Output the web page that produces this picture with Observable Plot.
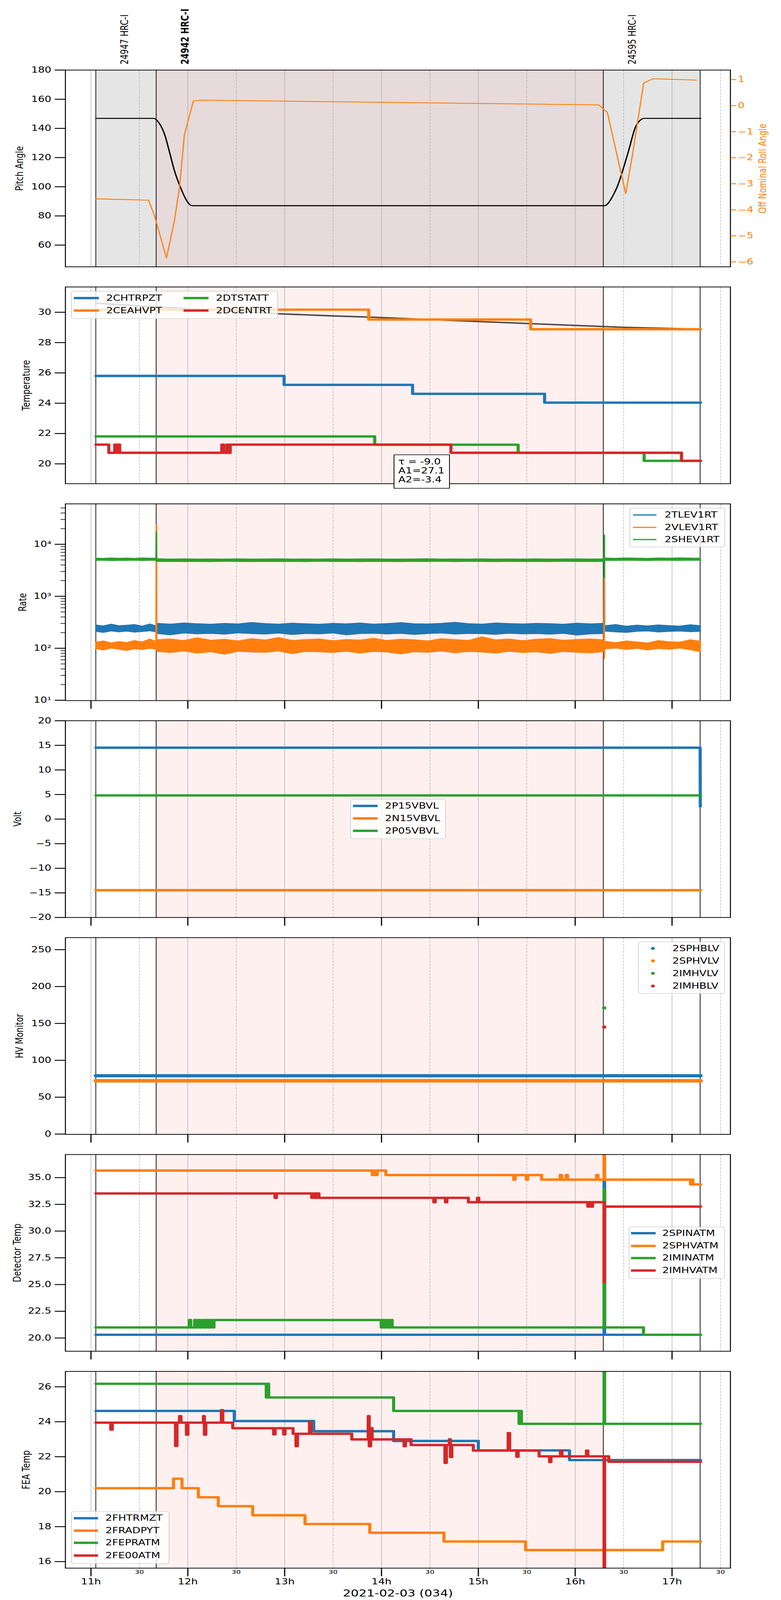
<!DOCTYPE html>
<html><head><meta charset="utf-8">
<script src="https://cdn.jsdelivr.net/npm/d3@7"></script>
<script src="https://cdn.jsdelivr.net/npm/@observablehq/plot@0.6"></script>
<style>
html,body{margin:0;padding:0;overflow:hidden;background:#fff;font-family:"DejaVu Sans",sans-serif;}
#wrap{position:relative;width:2000px;height:5400px;background:#fff;overflow:hidden;transform-origin:0 0}
#wrap svg{display:block}
.lg{position:absolute;box-sizing:border-box;border:2px solid #d3d3d3;border-radius:7px;background:rgba(255,255,255,0.8)}
.abs{position:absolute}
.lt{position:absolute;font-size:27px;line-height:34px;height:34px;white-space:nowrap;color:#000}
</style></head>
<body><div id="wrap"></div>
<script>
// ---------- data ----------
const obsidIds = ["24947", "24942", "24595"];
const obsidInst = ["HRC-I", "HRC-I", "HRC-I"];
const obsidStart = [11.05, 11.673, 16.29];
const obsidEnd = [11.673, 16.29, 17.29];
const currentObsid = "24942";
const hourTicks = [11, 12, 13, 14, 15, 16, 17];
const halfHourTicks = [11.5, 12.5, 13.5, 14.5, 15.5, 16.5, 17.5];
const dateLabel = "2021-02-03 (034)";

// panel 1: pitch and roll
const pitch = [[11.05,146.9],[11.647,146.9],[11.70,144],[11.76,136],[11.81,124],[11.862,111],[11.924,99.6],[11.99,90.3],[12.02,87.8],[12.043,87],[16.306,87],[16.35,89.5],[16.389,93.8],[16.44,101],[16.49,111],[16.553,125],[16.62,140.5],[16.67,145.5],[16.712,146.9],[17.295,146.9]];
const roll = [[11.05,-3.58],[11.595,-3.63],[11.657,-4.25],[11.78,-5.85],[11.862,-4.41],[11.914,-3.14],[11.965,-1.11],[12.058,0.18],[12.145,0.21],[16.244,0.03],[16.332,-0.26],[16.522,-3.38],[16.594,-1.83],[16.707,0.865],[16.8,1.03],[17.252,0.98]];
const pitchTicks = [60, 80, 100, 120, 140, 160, 180];
const rollTicks = [-6, -5, -4, -3, -2, -1, 0, 1];

// panel 2: temperature
const tempModel = [[11.05,30.6],[11.5,30.42],[12.0,30.24],[12.5,30.07],[12.94,29.9],[13.5,29.76],[13.97,29.66],[14.5,29.52],[15.0,29.39],[15.5,29.26],[16.0,29.13],[16.49,29.01],[17.0,28.93],[17.295,28.88]];
const CHTRPZT = [[11.05,25.8],[12.994,25.21],[14.321,24.62],[15.684,24.04],[17.295,24.04]];
const CEAHVPT = [[11.05,30.17],[13.868,29.52],[15.54,28.88],[17.295,28.88]];
const DTSTATT = [[11.05,21.81],[13.93,21.26],[15.411,20.73],[16.712,20.2],[17.295,20.2]];
const DCENTRT = [[11.05,21.27],[11.184,20.73],[11.245,21.27],[11.265,20.73],[11.285,21.27],[11.297,20.73],[12.351,21.27],[12.37,20.73],[12.403,21.27],[12.42,20.73],[12.438,21.27],[14.717,20.73],[17.098,20.2],[17.295,20.2]];
const fitText = ["τ = -9.0", "A1=27.1", "A2=-3.4"];
const tempTicks = [20, 22, 24, 26, 28, 30];

// panel 3: rates (envelope of the noisy traces)
const rateT = [11.05,11.13,11.21,11.29,11.37,11.45,11.53,11.61,11.665,11.69,11.82,11.96,12.1,12.24,12.38,12.52,12.66,12.8,12.94,13.08,13.22,13.36,13.5,13.64,13.78,13.92,14.06,14.2,14.34,14.48,14.62,14.76,14.9,15.04,15.18,15.32,15.46,15.6,15.74,15.88,16.02,16.16,16.285,16.31,16.42,16.53,16.64,16.75,16.86,16.97,17.08,17.19,17.295];
const TLEV1RT_hi = [280,268,290,270,276,285,266,292,272, 300,290,305,295,288,300,292,312,298,290,302,295,288,300,293,305,290,298,310,295,292,300,314,296,290,305,298,292,300,296,288,302,294,300, 270,285,265,278,268,280,272,266,282,270];
const TLEV1RT_lo = [210,200,214,205,212,203,208,215,206, 190,180,195,188,192,185,196,190,186,194,182,191,188,195,180,190,193,187,192,183,190,195,186,191,189,184,193,188,190,185,192,178,188,190, 212,205,200,210,214,204,209,213,206,210];
const VLEV1RT_hi = [130,138,126,134,128,140,132,150,136, 145,150,140,158,142,148,138,152,144,160,141,146,150,139,147,143,155,140,149,145,138,152,146,141,165,144,150,139,148,153,142,147,150,145, 135,128,138,132,126,140,133,130,145,136];
const VLEV1RT_lo = [98,92,100,95,90,97,94,99,96, 86,82,88,80,85,76,87,84,83,88,78,86,85,82,87,80,86,84,77,85,83,88,81,86,84,80,87,82,85,79,86,83,81,85, 97,100,94,99,92,98,95,100,93,85];
const SHEV1RT_hi = [5400,5350,5450,5380,5420,5360,5440,5390,5400, 5250,5200,5230,5180,5220,5200,5240,5190,5210,5230,5180,5220,5200,5240,5190,5210,5230,5200,5180,5220,5250,5190,5210,5200,5230,5180,5220,5200,5240,5190,5210,5230,5200,5220, 5420,5380,5450,5400,5360,5440,5390,5460,5410,5400];
const SHEV1RT_lo = [4850,4900,4820,4880,4860,4900,4840,4880,4870, 4620,4650,4600,4640,4610,4660,4630,4600,4650,4620,4640,4600,4660,4620,4640,4610,4650,4630,4600,4640,4620,4660,4610,4640,4630,4600,4650,4620,4640,4610,4660,4630,4620,4640, 4880,4850,4900,4860,4840,4890,4870,4850,4900,4870];
const TLEV1RT_spike = [[16.297,250],[16.30,15000],[16.303,230]];
const VLEV1RT_spike1 = [[11.672,130],[11.675,24000],[11.678,95]];
const VLEV1RT_spike2 = [[16.297,120],[16.299,2300],[16.30,64],[16.303,110]];
const SHEV1RT_spike1 = [[11.672,5300],[11.675,17400],[11.678,4700]];
const SHEV1RT_spike2 = [[16.297,5000],[16.30,14500],[16.301,2300],[16.303,5200]];
const rateTicks = [10, 100, 1000, 10000];

// panel 4: volts
const P15VBVL = [[11.05,14.52],[17.29,14.52],[17.292,2.57]];
const N15VBVL = [[11.05,-14.45],[17.295,-14.45]];
const P05VBVL = [[11.05,4.82],[17.295,4.82]];
const voltTicks = [-20, -15, -10, -5, 0, 5, 10, 15, 20];

// panel 5: HV monitor
const SPHBLV = [[11.05,79.1],[17.295,79.1]];
const SPHVLV = [[11.05,72.3],[17.295,72.3]];
const IMHVLV = [[16.30,171]];
const IMHBLV = [[16.30,145]];
const hvTicks = [0, 50, 100, 150, 200, 250];

// panel 6: detector temp
const SPINATM = [[11.05,20.3],[16.298,34.7],[16.304,20.3],[17.295,20.3]];
const SPHVATM = [[11.05,35.66],[13.905,35.24],[13.925,35.66],[13.94,35.24],[13.955,35.66],[14.045,35.24],[15.365,34.81],[15.38,35.24],[15.495,34.81],[15.51,35.24],[15.653,34.81],[15.845,35.24],[15.86,34.81],[15.905,35.24],[15.92,34.81],[16.22,35.24],[16.235,34.81],[16.298,37.8],[16.304,34.81],[17.19,34.37],[17.205,34.81],[17.215,34.37],[17.295,34.37]];
const IMINATM = [[11.05,20.99],[12.015,21.68],[12.03,20.99],[12.07,21.68],[12.09,20.99],[12.11,21.68],[12.13,20.99],[12.15,21.68],[12.17,20.99],[12.19,21.68],[12.21,20.99],[12.23,21.68],[12.25,20.99],[12.27,21.68],[13.997,20.99],[14.01,21.68],[14.03,20.99],[14.05,21.68],[14.07,20.99],[14.09,21.68],[14.11,20.99],[16.298,33.86],[16.304,20.99],[16.69,20.99],[16.705,20.3],[17.295,20.3]];
const IMHVATM = [[11.05,33.52],[12.9,33.11],[12.915,33.52],[13.28,33.11],[13.30,33.52],[13.32,33.11],[13.335,33.52],[13.354,33.11],[14.54,32.7],[14.555,33.11],[14.66,32.7],[14.675,33.11],[14.897,32.7],[14.99,33.11],[15.005,32.7],[16.13,32.29],[16.145,32.7],[16.165,32.29],[16.18,32.7],[16.298,25.23],[16.304,32.29],[17.295,32.29]];
const detTicks = [20, 22.5, 25, 27.5, 30, 32.5, 35];

// panel 7: FEA temp
const FHTRMZT = [[11.05,24.62],[12.48,24.04],[13.3,23.46],[14.125,22.9],[15.0,22.36],[15.941,21.81],[17.295,21.81]];
const FRADPYT = [[11.05,20.2],[11.852,20.74],[11.94,20.2],[12.109,19.68],[12.315,19.17],[12.67,18.65],[13.21,18.15],[13.879,17.65],[14.645,17.15],[15.488,16.66],[16.903,17.15],[17.295,17.15]];
const FEPRATM = [[11.05,26.17],[12.81,25.39],[12.82,26.17],[12.835,25.39],[14.125,24.62],[15.42,23.88],[15.43,24.62],[15.445,23.88],[16.298,27.5],[16.304,23.88],[17.295,23.88]];
const FE00ATM = [[11.05,23.95],[11.204,23.55],[11.22,23.95],[11.873,22.62],[11.888,23.95],[11.914,24.32],[11.929,23.95],[11.986,23.26],[12.001,23.95],[12.161,24.32],[12.171,23.26],[12.186,23.95],[12.346,24.66],[12.361,23.95],[12.464,23.63],[12.886,23.28],[12.901,23.63],[12.989,23.28],[13.004,23.63],[13.087,23.31],[13.117,22.6],[13.132,23.31],[13.256,24.0],[13.271,23.31],[13.693,22.99],[13.863,24.32],[13.873,22.6],[13.888,23.63],[13.903,22.99],[14.233,22.6],[14.248,22.99],[14.305,22.67],[14.655,21.65],[14.67,22.67],[14.701,23.0],[14.711,21.98],[14.726,22.67],[14.948,22.35],[15.308,23.35],[15.323,22.35],[15.396,22.0],[15.411,22.35],[15.627,22.02],[15.735,21.7],[15.75,22.02],[15.848,22.35],[15.863,22.02],[16.116,22.35],[16.131,22.02],[16.298,15.0],[16.304,22.02],[16.347,21.71],[17.295,21.71]];
const feaTicks = [16, 18, 20, 22, 24, 26];

// ---------- styling ----------
const C = {blue:"#1f77b4", orange:"#ff7f0e", green:"#2ca02c", red:"#d62728"};
const F = 27;
const xDomain = [10.736, 17.603];
const ML = 167, MR = 130;
const wrap = document.getElementById("wrap");
const obs = obsidIds.map((id, i) => ({id, inst: obsidInst[i], start: obsidStart[i], end: obsidEnd[i]}));
const bounds = Array.from(new Set([...obsidStart, ...obsidEnd]));

function background(top) {
  const m = [];
  if (top) {
    m.push(Plot.rect(obs.filter(d => d.id !== currentObsid), {x1: "start", x2: "end", fill: "#e5e5e5"}));
    m.push(Plot.rect(obs.filter(d => d.id === currentObsid), {x1: "start", x2: "end", fill: "#e6dada"}));
  } else {
    m.push(Plot.rect(obs.filter(d => d.id === currentObsid), {x1: "start", x2: "end", fill: "#fff0f0"}));
  }
  m.push(Plot.ruleX(hourTicks, {stroke: "#b0b0b0", strokeWidth: 1.4}));
  m.push(Plot.ruleX(halfHourTicks, {stroke: "#b0b0b0", strokeWidth: 1.4, strokeDasharray: "7,4"}));
  m.push(Plot.ruleX(bounds, {stroke: "black", strokeWidth: 1.8}));
  return m;
}
const yAxis = (ticks, fmt) => Plot.axisY({ticks, tickFormat: fmt || d3.format("d"), tickSize: 27, tickPadding: 9, fontSize: F, strokeWidth: 3, label: null});
const yLabel = (t, dx) => Plot.text([t], {text: d => d, frameAnchor: "left", dx, rotate: -90, fontSize: F, textAnchor: "middle", lineAnchor: "middle"});
const xTicksOnly = () => Plot.axisX({ticks: hourTicks, tickFormat: () => "", tickSize: 28, strokeWidth: 3, label: null});
const step = (data, color, w = 8) => Plot.line(data, {x: d => d[0], y: d => d[1], stroke: color, strokeWidth: w, curve: "step-after", strokeLinejoin: "round", clip: true});
const lin = (data, color, w = 8, extra = {}) => Plot.line(data, {x: d => d[0], y: d => d[1], stroke: color, strokeWidth: w, clip: true, ...extra});

function clean(svg) {
  svg.querySelectorAll("text").forEach(t => { if (!t.textContent.trim()) t.remove(); });
  return svg;
}
function panel({height, marginTop, marginBottom, y, marks, top}) {
  return clean(Plot.plot({
    width: 2000, height, marginLeft: ML, marginRight: MR, marginTop, marginBottom,
    x: {domain: xDomain, axis: null},
    y: {...y, axis: null},
    style: {fontFamily: "DejaVu Sans, sans-serif", fontSize: F + "px", background: "transparent", overflow: "visible", color: "black"},
    marks: [...background(top), ...marks, Plot.frame({stroke: "black", strokeWidth: 2.5})]
  }));
}

// ---------- panel 1 ----------
const p1box = document.createElement("div");
p1box.style.position = "relative";
wrap.appendChild(p1box);
p1box.appendChild(panel({
  height: 934, marginTop: 236, marginBottom: 34, top: true,
  y: {domain: [45.1, 180]},
  marks: [
    lin(pitch, "black", 3.5, {curve: "monotone-x"}),
    yAxis(pitchTicks), yLabel("Pitch Angle", -117),
    Plot.text(obs.filter(d => d.id !== currentObsid), {x: d => d.start + 0.3, frameAnchor: "top", dy: -19, text: d => d.id + " " + d.inst, rotate: -90, textAnchor: "start", lineAnchor: "middle", fontSize: F}),
    Plot.text(obs.filter(d => d.id === currentObsid), {x: d => d.start + 0.3, frameAnchor: "top", dy: -19, text: d => d.id + " " + d.inst, rotate: -90, textAnchor: "start", lineAnchor: "middle", fontSize: F, fontWeight: "bold"})
  ]
}));
const rollPlot = clean(Plot.plot({
  width: 2000, height: 934, marginLeft: ML, marginRight: MR, marginTop: 236, marginBottom: 34,
  x: {domain: xDomain, axis: null}, y: {domain: [-6.19, 1.365], axis: null},
  style: {fontFamily: "DejaVu Sans, sans-serif", fontSize: F + "px", background: "transparent", overflow: "visible"},
  marks: [
    lin(roll, C.orange, 3),
    Plot.axisY({anchor: "right", ticks: rollTicks, tickFormat: d3.format("d"), tickSize: 14, tickPadding: 5, fontSize: F, strokeWidth: 3, color: C.orange, label: null}),
    Plot.text(["Off Nominal Roll Angle"], {text: d => d, frameAnchor: "right", dx: 83, rotate: -90, fontSize: F, fill: C.orange, textAnchor: "middle", lineAnchor: "middle"})
  ]
}));
rollPlot.style.position = "absolute"; rollPlot.style.left = "0px"; rollPlot.style.top = "0px";
p1box.appendChild(rollPlot);

// ---------- panel 2 ----------
wrap.appendChild(panel({
  height: 732, marginTop: 34, marginBottom: 34,
  y: {domain: [18.69, 31.67]},
  marks: [
    lin(tempModel, "#524a4a", 5),
    step(CHTRPZT, C.blue), step(CEAHVPT, C.orange), step(DTSTATT, C.green), step(DCENTRT, C.red),
    yAxis(tempTicks), yLabel("Temperature", -100)
  ]
}));

// ---------- panel 3 ----------
const env = (lo, hi) => rateT.map((t, i) => ({t, lo: lo[i], hi: hi[i]}));
const band = (lo, hi, color) => Plot.areaY(env(lo, hi), {x: "t", y1: "lo", y2: "hi", fill: color, stroke: color, strokeWidth: 2.5});
const minorRate = [];
for (const dec of [10, 100, 1000, 10000]) for (let k = 2; k <= 9; k++) if (k * dec < 60000) minorRate.push(k * dec);
const sup = {1: "¹", 2: "²", 3: "³", 4: "⁴"};
wrap.appendChild(panel({
  height: 732, marginTop: 34, marginBottom: 34,
  y: {type: "log", domain: [9.85, 60000]},
  marks: [
    band(TLEV1RT_lo, TLEV1RT_hi, C.blue), lin(TLEV1RT_spike, C.blue, 4),
    band(VLEV1RT_lo, VLEV1RT_hi, C.orange), lin(VLEV1RT_spike1, C.orange, 4), lin(VLEV1RT_spike2, C.orange, 4),
    band(SHEV1RT_lo, SHEV1RT_hi, C.green), lin(SHEV1RT_spike1, C.green, 4), lin(SHEV1RT_spike2, C.green, 4),
    Plot.axisY({ticks: minorRate, tickFormat: () => "", tickSize: 12, strokeWidth: 2, label: null}),
    yAxis(rateTicks, d => "10" + sup[Math.round(Math.log10(d))]),
    yLabel("Rate", -109), xTicksOnly()
  ]
}));

// ---------- panel 4 ----------
wrap.appendChild(panel({
  height: 732, marginTop: 34, marginBottom: 34,
  y: {domain: [-20, 20]},
  marks: [
    lin(P15VBVL, C.blue), lin(N15VBVL, C.orange), lin(P05VBVL, C.green),
    yAxis(voltTicks), yLabel("Volt", -122), xTicksOnly()
  ]
}));

// ---------- panel 5 ----------
wrap.appendChild(panel({
  height: 732, marginTop: 34, marginBottom: 34,
  y: {domain: [-0.4, 266.3]},
  marks: [
    lin(SPHBLV, C.blue, 11, {strokeLinecap: "round"}),
    lin(SPHVLV, C.orange, 12, {strokeLinecap: "round"}),
    Plot.dot(IMHVLV, {x: d => d[0], y: d => d[1], r: 5.5, fill: C.green}),
    Plot.dot(IMHBLV, {x: d => d[0], y: d => d[1], r: 5.5, fill: C.red}),
    yAxis(hvTicks), yLabel("HV Monitor", -117), xTicksOnly()
  ]
}));

// ---------- panel 6 ----------
wrap.appendChild(panel({
  height: 732, marginTop: 34, marginBottom: 34,
  y: {domain: [18.76, 37.16]},
  marks: [
    step(SPINATM, C.blue), step(SPHVATM, C.orange), step(IMINATM, C.green), step(IMHVATM, C.red),
    yAxis(detTicks, d3.format(".1f")), yLabel("Detector Temp", -123), xTicksOnly()
  ]
}));

// ---------- panel 7 ----------
wrap.appendChild(panel({
  height: 806, marginTop: 34, marginBottom: 108,
  y: {domain: [15.625, 26.88]},
  marks: [
    step(FHTRMZT, C.blue), step(FRADPYT, C.orange), step(FEPRATM, C.green), step(FE00ATM, C.red),
    yAxis(feaTicks), yLabel("FEA Temp", -100),
    Plot.axisX({ticks: hourTicks, tickFormat: d => d + "h", tickSize: 28, tickPadding: 7, fontSize: F, strokeWidth: 3, label: null}),
    Plot.axisX({ticks: halfHourTicks, tickFormat: () => "30", tickSize: 3, tickPadding: 3, fontSize: 18, strokeWidth: 1.5, label: null}),
    Plot.text([dateLabel], {text: d => d, frameAnchor: "bottom", dy: 86, fontSize: 32, lineAnchor: "middle"})
  ]
}));

// ---------- legends (HTML overlays) ----------
function el(cls, css, txt) {
  const d = document.createElement("div");
  d.className = cls; Object.assign(d.style, css);
  if (txt != null) d.textContent = txt;
  wrap.appendChild(d); return d;
}
function legend(box, rows) {
  el("lg", {left: box[0] + "px", top: box[1] + "px", width: box[2] + "px", height: box[3] + "px"});
  for (const r of rows) {
    if (r.dot) {
      el("abs", {left: (r.hx - 5) + "px", top: (r.y - 5) + "px", width: "10px", height: "10px", borderRadius: "50%", background: r.color});
    } else {
      el("abs", {left: r.hx + "px", top: (r.y - r.th / 2) + "px", width: r.hw + "px", height: r.th + "px", background: r.color});
    }
    el("lt", {left: r.tx + "px", top: (r.y - 17) + "px"}, r.label);
  }
}
legend([182, 982, 530, 94], [
  {label: "2CHTRPZT", color: C.blue, hx: 189, hw: 64, th: 8, tx: 272, y: 1006},
  {label: "2CEAHVPT", color: C.orange, hx: 189, hw: 64, th: 8, tx: 272, y: 1048},
  {label: "2DTSTATT", color: C.green, hx: 470, hw: 64, th: 8, tx: 553, y: 1006},
  {label: "2DCENTRT", color: C.red, hx: 470, hw: 64, th: 8, tx: 553, y: 1048}
]);
legend([1612, 1714, 245, 133], [
  {label: "2TLEV1RT", color: C.blue, hx: 1621, hw: 60, th: 4, tx: 1702, y: 1737.5},
  {label: "2VLEV1RT", color: C.orange, hx: 1621, hw: 60, th: 4, tx: 1702, y: 1779.6},
  {label: "2SHEV1RT", color: C.green, hx: 1621, hw: 60, th: 4, tx: 1702, y: 1820.6}
]);
legend([897, 2697, 245, 135], [
  {label: "2P15VBVL", color: C.blue, hx: 904, hw: 63, th: 8, tx: 986, y: 2720},
  {label: "2N15VBVL", color: C.orange, hx: 904, hw: 63, th: 8, tx: 986, y: 2762},
  {label: "2P05VBVL", color: C.green, hx: 904, hw: 63, th: 8, tx: 986, y: 2804}
]);
legend([1634, 3178, 222, 176], [
  {label: "2SPHBLV", color: C.blue, dot: true, hx: 1672, tx: 1722, y: 3201},
  {label: "2SPHVLV", color: C.orange, dot: true, hx: 1672, tx: 1722, y: 3243},
  {label: "2IMHVLV", color: C.green, dot: true, hx: 1672, tx: 1722, y: 3285},
  {label: "2IMHBLV", color: C.red, dot: true, hx: 1672, tx: 1722, y: 3328}
]);
legend([1610, 4140, 246, 176], [
  {label: "2SPINATM", color: C.blue, hx: 1616, hw: 63, th: 8, tx: 1696, y: 4162},
  {label: "2SPHVATM", color: C.orange, hx: 1616, hw: 63, th: 8, tx: 1696, y: 4204.5},
  {label: "2IMINATM", color: C.green, hx: 1616, hw: 63, th: 8, tx: 1696, y: 4246},
  {label: "2IMHVATM", color: C.red, hx: 1616, hw: 63, th: 8, tx: 1696, y: 4288}
]);
legend([182, 5100, 252, 178], [
  {label: "2FHTRMZT", color: C.blue, hx: 189, hw: 62, th: 8, tx: 270, y: 5124},
  {label: "2FRADPYT", color: C.orange, hx: 189, hw: 62, th: 8, tx: 270, y: 5166},
  {label: "2FEPRATM", color: C.green, hx: 189, hw: 62, th: 8, tx: 270, y: 5207},
  {label: "2FE00ATM", color: C.red, hx: 189, hw: 62, th: 8, tx: 270, y: 5249.5}
]);
// fit annotation box
el("abs", {left: "1008px", top: "1534px", width: "144px", height: "115px", boxSizing: "border-box", border: "2px solid black", background: "white"});
fitText.forEach((t, i) => el("lt", {left: "1020px", top: (1541 + i * 30.5) + "px"}, t));

// fit the full 5400px-tall figure into the actual viewport height if it is shorter
const vh = window.innerHeight;
if (vh > 0 && vh < 5400) {
  const s = vh / 5400;
  wrap.style.transform = `scale(1, ${s})`;
  document.body.style.height = vh + "px";
}
</script></body></html>
